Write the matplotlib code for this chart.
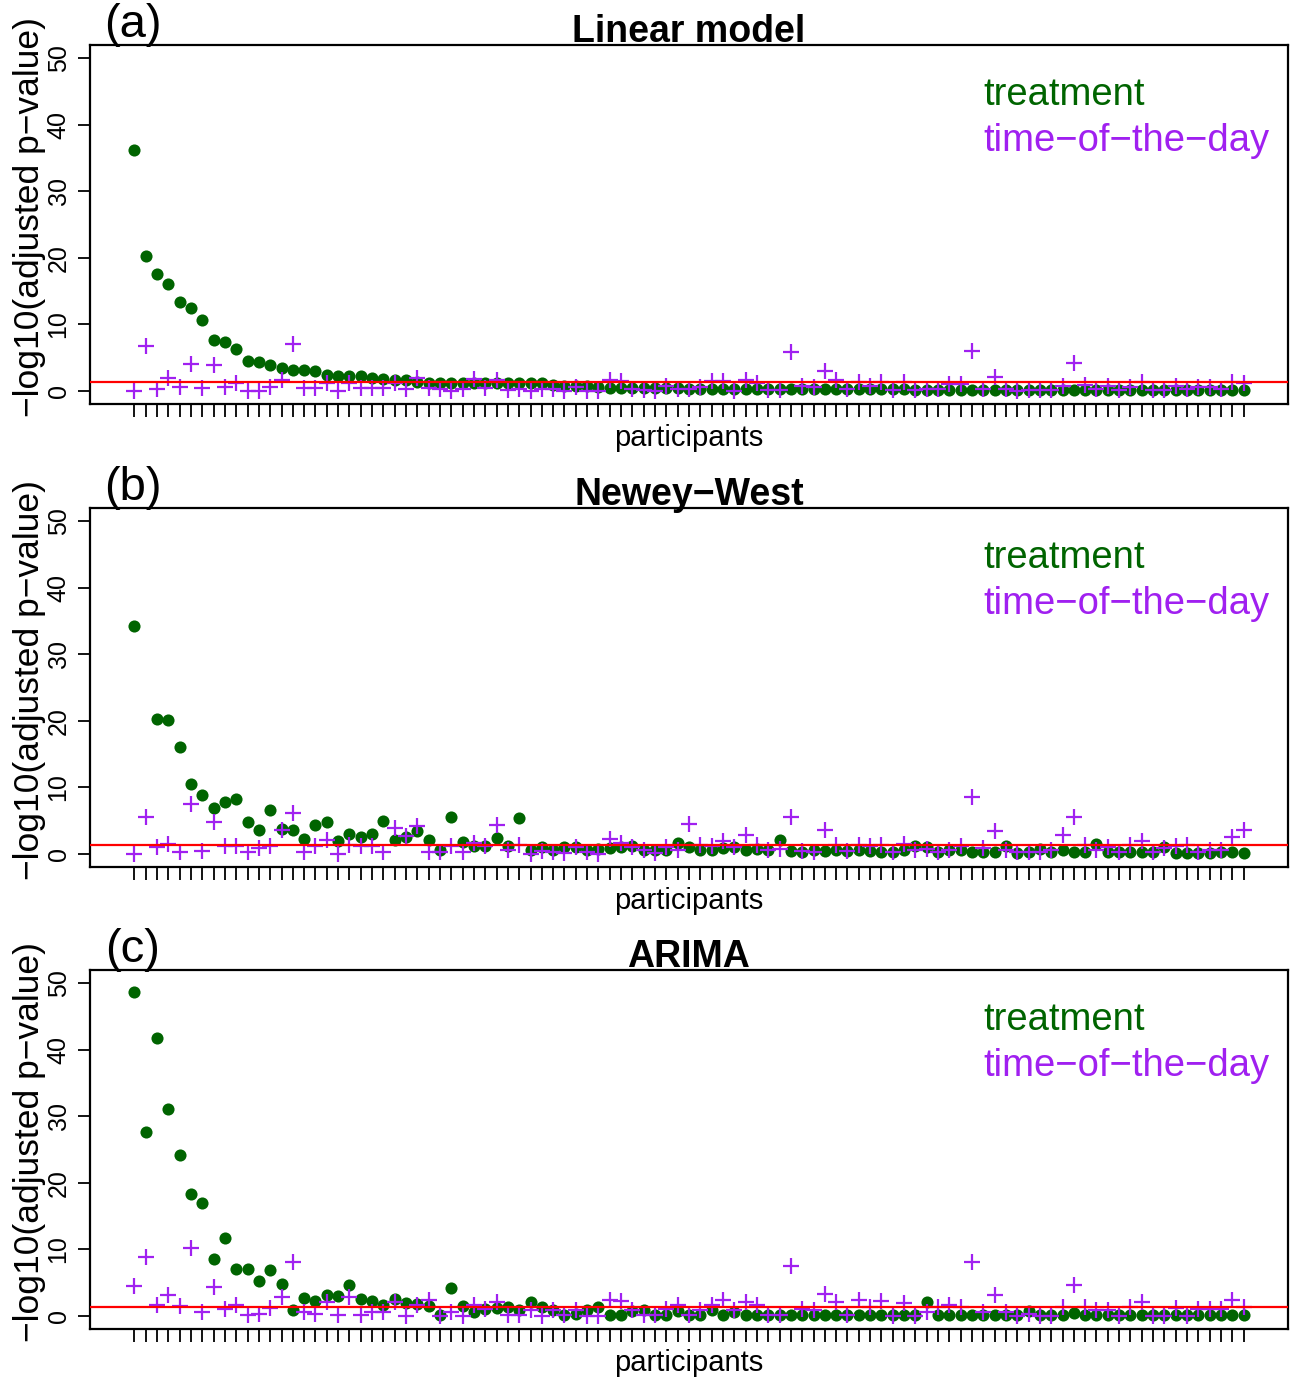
import matplotlib
matplotlib.use('Agg')
import matplotlib.pyplot as plt
import numpy as np

plt.rcParams['font.family'] = ['Liberation Sans', 'DejaVu Sans']

# -log10(adjusted p-value) per participant
# (a) Linear model
lm_treatment = [
    36.2, 20.2, 17.6, 16.0, 13.3, 12.5, 10.7, 7.6, 7.4, 6.3,
    4.4, 4.25, 3.9, 3.45, 3.15, 3.05, 2.9, 2.3, 2.25, 2.25,
    2.2, 1.95, 1.75, 1.6, 1.55, 1.35, 1.2, 1.15, 1.15, 1.15,
    1.15, 1.15, 1.15, 1.15, 1.15, 1.1, 1.1, 0.8, 0.75, 0.7,
    0.65, 0.6, 0.45, 0.4, 0.4, 0.38, 0.36, 0.35, 0.34, 0.33,
    0.32, 0.31, 0.3, 0.3, 0.29, 0.28, 0.27, 0.26, 0.25, 0.25,
    0.24, 0.23, 0.22, 0.22, 0.21, 0.2, 0.2, 0.19, 0.19, 0.18,
    0.18, 0.17, 0.17, 0.16, 0.16, 0.15, 0.15, 0.15, 0.14, 0.14,
    0.14, 0.13, 0.13, 0.13, 0.12, 0.12, 0.12, 0.11, 0.11, 0.11,
    0.1, 0.1, 0.1, 0.1, 0.09, 0.09, 0.09, 0.08, 0.08,
]
lm_time = [
    0.0, 6.75, 0.25, 1.9, 0.6, 4.0, 0.35, 3.85, 0.5, 1.15,
    0.0, 0.0, 0.5, 1.65, 7.0, 0.4, 0.4, 1.15, 0.0, 1.15,
    0.4, 0.4, 0.4, 1.1, 0.2, 1.9, 0.4, 0.3, 0.0, 0.3,
    1.7, 0.4, 1.6, 0.15, 0.2, 0.0, 0.2, 0.2, 0.0, 0.6,
    0.0, 0.0, 1.65, 1.5, 0.2, 0.15, 0.0, 0.75, 0.2, 0.2,
    0.6, 1.4, 1.4, 0.0, 1.6, 1.15, 0.1, 0.1, 5.75, 0.7,
    0.6, 2.9, 1.6, 0.2, 1.3, 0.75, 1.3, 0.1, 1.3, 0.1,
    0.2, 0.2, 1.0, 1.0, 5.9, 0.2, 2.05, 0.2, 0.0, 0.1,
    0.1, 0.1, 0.75, 4.15, 0.9, 0.2, 0.75, 0.1, 0.6, 1.3,
    0.1, 0.1, 0.7, 0.2, 0.6, 0.6, 0.2, 1.3, 1.1,
]

# (b) Newey-West (participant 2 treatment not shown)
nw_treatment = [
    34.3, np.nan, 20.3, 20.05, 16.0, 10.55, 8.9, 6.8, 7.75, 8.25,
    4.75, 3.5, 6.5, 3.75, 3.5, 2.25, 4.25, 4.75, 1.95, 3.0,
    2.45, 2.95, 4.85, 2.0, 2.5, 3.45, 2.0, 0.5, 5.45, 1.7,
    1.2, 1.2, 2.35, 1.2, 5.35, 0.6, 1.0, 0.6, 1.0, 1.0,
    0.6, 0.7, 0.85, 1.0, 1.2, 0.6, 0.6, 0.6, 1.6, 1.0,
    0.5, 0.5, 0.85, 1.0, 0.6, 0.7, 0.5, 2.0, 0.35, 0.25,
    0.5, 0.35, 0.6, 0.35, 0.6, 0.35, 0.3, 0.3, 0.6, 1.2,
    1.0, 0.3, 0.6, 0.6, 0.2, 0.2, 0.2, 1.2, 0.1, 0.3,
    0.7, 0.3, 0.6, 0.2, 0.2, 1.4, 0.2, 0.2, 0.3, 0.2,
    0.2, 1.0, 0.1, 0.1, 0.1, 0.1, 0.2, 0.3, 0.1,
]
nw_time = [
    0.0, 5.5, 0.95, 1.45, 0.25, 7.5, 0.45, 4.7, 1.1, 1.1,
    0.3, 0.85, 1.1, 3.6, 6.1, 0.3, 1.1, 2.1, 0.0, 1.3,
    1.1, 1.1, 0.3, 3.85, 2.6, 4.2, 0.3, 0.3, 1.1, 0.3,
    1.6, 1.2, 4.35, 0.6, 1.3, 0.0, 0.35, 0.2, 0.1, 1.0,
    0.2, 0.0, 2.2, 1.6, 1.0, 0.5, 0.1, 1.0, 0.6, 4.5,
    1.3, 1.1, 1.85, 1.0, 2.85, 1.3, 0.5, 0.7, 5.5, 0.35,
    0.25, 3.6, 1.3, 0.35, 1.3, 1.1, 1.3, 0.2, 1.5, 0.6,
    0.7, 0.3, 0.5, 1.2, 8.6, 0.8, 3.35, 0.6, 0.2, 0.2,
    0.2, 0.5, 2.85, 5.5, 1.3, 0.5, 1.0, 0.2, 1.3, 1.9,
    0.2, 0.8, 1.1, 1.3, 0.3, 0.5, 0.5, 2.5, 3.5,
]

# (c) ARIMA
ar_treatment = [
    48.75, 27.7, 41.7, 31.1, 24.1, 18.3, 17.0, 8.5, 11.7, 7.05,
    7.05, 5.2, 6.85, 4.7, 0.8, 2.7, 2.15, 3.15, 2.9, 4.65,
    2.45, 2.2, 1.65, 2.55, 1.95, 1.7, 1.4, 0.05, 4.15, 1.4,
    0.55, 1.05, 1.2, 1.3, 0.8, 2.05, 1.3, 0.8, 0.15, 0.3,
    0.8, 1.3, 0.05, 0.05, 0.65, 0.8, 0.15, 0.15, 0.65, 0.15,
    0.15, 0.8, 0.05, 0.55, 0.05, 0.05, 0.05, 0.05, 0.05, 0.05,
    0.05, 0.05, 0.05, 0.05, 0.05, 0.05, 0.05, 0.05, 0.05, 0.05,
    2.05, 0.05, 0.05, 0.05, 0.05, 0.05, 0.05, 0.05, 0.05, 0.65,
    0.05, 0.05, 0.05, 0.35, 0.05, 0.05, 0.05, 0.05, 0.05, 0.05,
    0.05, 0.05, 0.05, 0.05, 0.05, 0.05, 0.05, 0.05, 0.05,
]
ar_time = [
    4.45, 8.8, 1.65, 3.05, 1.4, 10.15, 0.6, 4.3, 1.05, 1.6,
    0.05, 0.3, 1.15, 2.8, 8.15, 0.55, 0.3, 2.0, 0.05, 2.8,
    0.05, 0.55, 0.55, 2.0, 0.0, 1.6, 2.3, 0.0, 0.55, 0.0,
    1.6, 1.05, 2.0, 0.1, 0.15, 0.8, 0.0, 0.8, 0.15, 0.8,
    0.0, 0.0, 2.3, 2.15, 0.8, 0.15, 0.15, 1.05, 1.65, 0.15,
    0.8, 1.55, 2.3, 0.8, 2.05, 1.55, 0.15, 0.15, 7.55, 1.05,
    0.8, 3.3, 2.05, 0.15, 2.3, 1.3, 2.2, 0.0, 1.95, 0.0,
    0.6, 1.3, 1.55, 1.3, 8.05, 0.55, 3.05, 0.55, 0.0, 0.3,
    0.0, 0.0, 1.3, 4.55, 1.3, 0.8, 0.8, 0.0, 1.3, 2.05,
    0.0, 0.0, 1.2, 0.0, 1.05, 1.05, 1.05, 2.3, 1.3,
]

panels = [
    ('(a)', 'Linear model', lm_treatment, lm_time),
    ('(b)', 'Newey\u2212West', nw_treatment, nw_time),
    ('(c)', 'ARIMA', ar_treatment, ar_time),
]
panel_tops = [45, 508, 970]   # pixel rows of each box top
threshold = -np.log10(0.05)
y_ticks = [0, 10, 20, 30, 40, 50]

W, H = 1293, 1377
fig = plt.figure(figsize=(W / 100, H / 100), dpi=100)


def fx(px):
    return px / W


def fy(py):
    return 1 - py / H


for (tag, title, trt, tod), top in zip(panels, panel_tops):
    bottom = top + 359
    ax = fig.add_axes([fx(90), fy(bottom), fx(1288 - 90), (bottom - top) / H])
    n = len(trt)
    x = np.arange(1, n + 1)

    ax.scatter(x, trt, s=76, color='#006400', marker='o', linewidths=0, zorder=2)
    ax.scatter(x, tod, s=135, color='#A020F0', marker='+', linewidths=1.6, zorder=3)
    ax.axhline(threshold, color='red', lw=1.6, zorder=4)

    pad = 0.04 * (n - 1)
    ax.set_xlim(1 - pad, n + pad)
    ax.set_ylim(-2, 52)

    ax.set_xticks(x)
    ax.set_xticklabels([])
    ax.set_yticks(y_ticks)
    ax.set_yticklabels([str(v) for v in y_ticks], rotation=90, va='center', fontsize=18)
    ax.tick_params(axis='both', direction='out', length=9, width=1.3, color='black', pad=5)
    for sp in ax.spines.values():
        sp.set_linewidth(1.6)

    # titles and labels
    fig.text(fx(689), fy(top - 3), title, ha='center', va='baseline',
             fontsize=27, fontweight='bold')
    fig.text(fx(133), fy(top - 20), tag, ha='center', va='center', fontsize=34)
    fig.text(fx(30), fy(top + 172), '\u2212log10(adjusted p\u2212value)', rotation=90,
             ha='center', va='center', fontsize=25.5)
    fig.text(fx(689), fy(top + 393), 'participants', ha='center', va='center', fontsize=21)

    # legend text
    fig.text(fx(983), fy(top + 50), 'treatment', color='#006400', ha='left', va='center',
             fontsize=27.5)
    fig.text(fx(983), fy(top + 96), 'time\u2212of\u2212the\u2212day', color='#A020F0',
             ha='left', va='center', fontsize=27.5)

fig.savefig('out.png', dpi=100)
